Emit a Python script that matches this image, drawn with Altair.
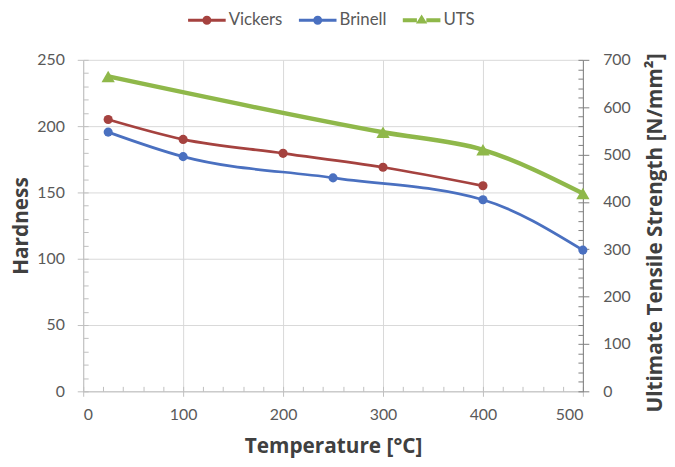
import altair as alt
import pandas as pd

# ---- data ----
series_names = ["Vickers", "Brinell", "UTS"]
series_colors = ["#A5423F", "#4A70C0", "#8FB84A"]

temp_vickers = [25, 100, 200, 300, 400]
vickers = [205, 190, 179.5, 169, 155]

temp_brinell = [25, 100, 250, 400, 500]
brinell = [195.5, 177, 161, 144.5, 106.5]

temp_uts = [25, 300, 400, 500]
uts = [665, 547, 510, 418]

x_major = [0, 100, 200, 300, 400, 500]
x_minor = list(range(0, 501, 20))
hard_major = [0, 50, 100, 150, 200, 250]
hard_minor = list(range(0, 251, 10))
uts_major = [0, 100, 200, 300, 400, 500, 600, 700]
uts_minor = list(range(0, 701, 20))

W, H = 505, 335
LABEL_FONT = "Lato, Open Sans, sans-serif"
TITLE_FONT = "Open Sans"
LABEL_SIZE = 16
TITLE_SIZE = 21


def frame(name, t, v):
    return pd.DataFrame({"T": t, "V": v, "series": name})


df_v = frame("Vickers", temp_vickers, vickers)
df_b = frame("Brinell", temp_brinell, brinell)
df_u = frame("UTS", temp_uts, uts)
df_all = pd.concat([df_v, df_b, df_u], ignore_index=True)

x_scale = alt.Scale(domain=[0, 500], nice=False, zero=False)
hard_scale = alt.Scale(domain=[0, 250], nice=False)
uts_scale = alt.Scale(domain=[0, 700], nice=False)

# legend glyphs: line with a marker in the middle (filled shapes)
line_circle = ("M-1,-0.075H-0.22V0.075H-1Z M0.22,-0.075H1V0.075H0.22Z "
               "M0.24,0A0.24,0.24,0,1,1,-0.24,0A0.24,0.24,0,1,1,0.24,0Z")
line_tri = ("M-1,-0.11H-0.25V0.11H-1Z M0.25,-0.11H1V0.11H0.25Z "
            "M-0.3,0.17L0,-0.3L0.3,0.17Z")
legend_shapes = [line_circle, line_circle, line_tri]

color_scale = alt.Scale(domain=series_names, range=series_colors)
color_nolegend = alt.Color("series:N", scale=color_scale, legend=None)

SYM = 1444
legend = alt.Legend(
    title=None, orient="none", direction="horizontal",
    legendX=106, legendY=-59,
    labelFont=LABEL_FONT, labelFontSize=17, labelColor="#595959",
    symbolSize=SYM, symbolStrokeWidth=0, symbolOpacity=1,
    labelOffset=3, columnPadding=16,
)

x_main = alt.X("T:Q", scale=x_scale, axis=alt.Axis(
    orient="bottom", values=x_major, title="Temperature [°C]", grid=True, gridColor="#D9D9D9",
    domainColor="#BFBFBF", tickColor="#BFBFBF", tickSize=5,
    labelFont=LABEL_FONT, labelFontSize=LABEL_SIZE, labelColor="#595959", labelPadding=10,
    titleFont=TITLE_FONT, titleFontSize=TITLE_SIZE, titleFontWeight="bold", titleColor="#404040",
    titleY=62, titleBaseline="alphabetic"))
x_min = alt.X("T:Q", scale=x_scale, axis=alt.Axis(
    orient="top", offset=-H, values=x_minor, labels=False, domain=False, grid=False,
    tickSize=5, tickColor="#BFBFBF", title=None))
x_none = alt.X("T:Q", scale=x_scale, axis=None)

y_left = alt.Y("V:Q", scale=hard_scale, axis=alt.Axis(
    orient="left", values=hard_major, title="Hardness", grid=True, gridColor="#D9D9D9",
    domainColor="#BFBFBF", tickColor="#BFBFBF", tickSize=6,
    labelFont=LABEL_FONT, labelFontSize=LABEL_SIZE, labelColor="#595959", labelPadding=13,
    titleFont=TITLE_FONT, titleFontSize=TITLE_SIZE, titleFontWeight="bold", titleColor="#404040",
    titleAngle=270, titleX=-62, titleY=H / 2, titleBaseline="middle"))
y_left_min = alt.Y("V:Q", scale=hard_scale, axis=alt.Axis(
    orient="right", offset=-W, values=hard_minor, labels=False, domain=False, grid=False,
    tickSize=5, tickColor="#BFBFBF", title=None))
y_left_none = alt.Y("V:Q", scale=hard_scale, axis=None)

y_right = alt.Y("V:Q", scale=uts_scale, axis=alt.Axis(
    orient="right", values=uts_major, title="Ultimate Tensile Strength [N/mm²]", grid=False,
    domainColor="#808080", tickColor="#808080", tickSize=6,
    labelFont=LABEL_FONT, labelFontSize=LABEL_SIZE, labelColor="#595959", labelPadding=14,
    titleFont=TITLE_FONT, titleFontSize=TITLE_SIZE, titleFontWeight="bold", titleColor="#404040",
    titleAngle=270, titleX=73, titleY=H / 2 + 7, titleBaseline="middle"))
y_right_min = alt.Y("V:Q", scale=uts_scale, axis=alt.Axis(
    orient="left", offset=-W, values=uts_minor, labels=False, domain=False, grid=False,
    tickSize=5, tickColor="#808080", title=None))
y_right_none = alt.Y("V:Q", scale=uts_scale, axis=None)

vick_line = alt.Chart(df_v).mark_line(interpolate="monotone", strokeWidth=2.75).encode(
    x=x_main, y=y_left, color=color_nolegend)
vick_pts = alt.Chart(df_v).mark_point(filled=True, shape="circle", size=85, opacity=1).encode(
    x=x_none, y=y_left_none, color=color_nolegend)
brin_line = alt.Chart(df_b).mark_line(interpolate="monotone", strokeWidth=2.75).encode(
    x=x_min, y=y_left_min, color=color_nolegend)
brin_pts = alt.Chart(df_b).mark_point(filled=True, shape="circle", size=85, opacity=1).encode(
    x=x_none, y=y_left_none, color=color_nolegend)
hard = alt.layer(vick_line, vick_pts, brin_line, brin_pts)

uts_line = alt.Chart(df_u).mark_line(interpolate="monotone", strokeWidth=4.5).encode(
    x=x_none, y=y_right, color=color_nolegend)
uts_pts = alt.Chart(df_u).mark_point(filled=True, shape="triangle-up", size=180, opacity=1).encode(
    x=x_none, y=y_right_min, color=color_nolegend)
uts_layer = alt.layer(uts_line, uts_pts)

# legend-only layer: no rows drawn, legend built from the explicit domains
legend_layer = alt.Chart(df_all).transform_filter("false").mark_point(
    filled=True, size=SYM, opacity=1).encode(
    x=x_none, y=y_right_none,
    color=alt.Color("series:N", scale=color_scale, legend=legend),
    shape=alt.Shape("series:N", scale=alt.Scale(domain=series_names, range=legend_shapes), legend=legend),
)

chart = alt.layer(legend_layer, hard, uts_layer).resolve_scale(y="independent").properties(
    width=W, height=H, autosize="none",
    padding={"left": 76, "top": 50, "right": 85, "bottom": 66},
    background="white",
).configure_view(stroke=None)

chart.save("out.html", embed_options={"renderer": "svg", "actions": False})
